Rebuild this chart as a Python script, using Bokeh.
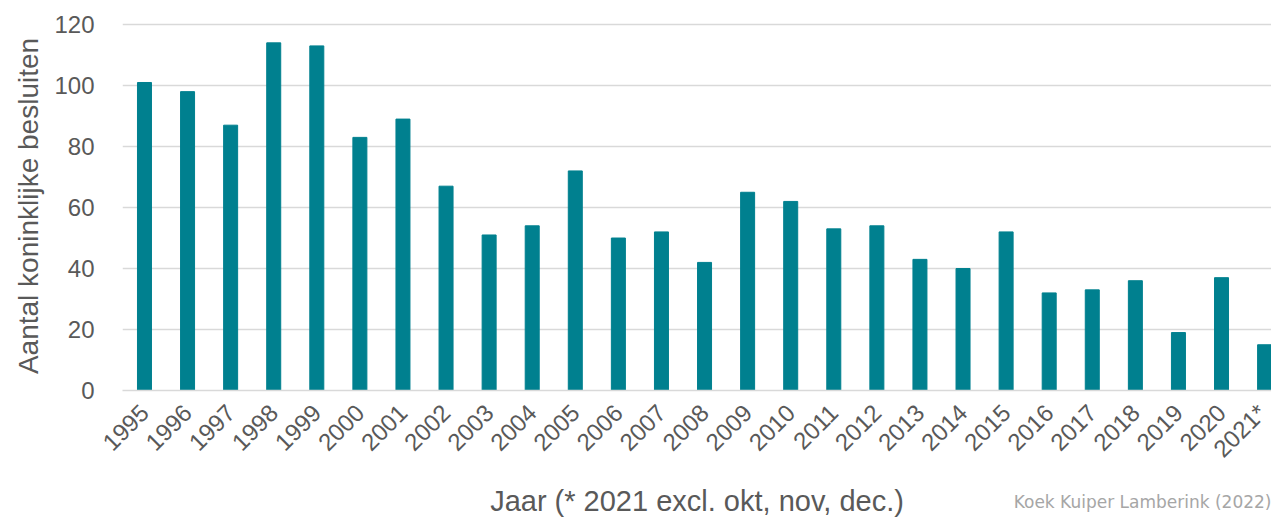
from math import pi
from bokeh.plotting import figure
from bokeh.models import FixedTicker, Label, ColumnDataSource, Range1d
from bokeh.embed import file_html
from bokeh.resources import INLINE

years = list(range(1995, 2022))
tick_labels = [str(y) for y in range(1995, 2021)] + ["2021*"]
values = [101, 98, 87, 114, 113, 83, 89, 67, 51, 54, 72, 50, 52, 42, 65, 62,
          53, 54, 43, 40, 52, 32, 33, 36, 19, 37, 15]
y_ticks = [0, 20, 40, 60, 80, 100, 120]

src = ColumnDataSource(data=dict(x=years, top=values))

p = figure(width=1271, height=519, output_backend="svg", toolbar_location=None,
           x_range=Range1d(1994.49, 2021.16), y_range=Range1d(0, 121),
           min_border_left=122, min_border_right=0, min_border_top=21,
           min_border_bottom=129)
p.vbar(x="x", top="top", width=0.325, source=src, color="#00808F")

p.outline_line_color = None
p.xgrid.grid_line_color = None
p.ygrid.grid_line_color = "#D9D9D9"
p.ygrid.grid_line_width = 1.5
p.ygrid.ticker = FixedTicker(ticks=y_ticks)

font = "Liberation Sans"
txt = "#595959"

p.yaxis.ticker = FixedTicker(ticks=y_ticks)
p.yaxis.axis_line_color = None
p.yaxis.major_tick_line_color = None
p.yaxis.minor_tick_line_color = None
p.yaxis.major_label_text_font = font
p.yaxis.major_label_text_font_size = "24px"
p.yaxis.major_label_text_color = txt
p.yaxis.major_label_standoff = 22
p.yaxis.axis_label = "Aantal koninklijke besluiten"
p.yaxis.axis_label_text_font = font
p.yaxis.axis_label_text_font_size = "28px"
p.yaxis.axis_label_text_font_style = "normal"
p.yaxis.axis_label_text_color = txt
p.yaxis.axis_label_standoff = 7

p.xaxis.ticker = FixedTicker(ticks=years)
p.xaxis.major_label_overrides = {y: l for y, l in zip(years, tick_labels)}
p.xaxis.major_label_orientation = pi / 4
p.xaxis.axis_line_color = "#D9D9D9"
p.xaxis.axis_line_width = 1.5
p.xaxis.major_tick_line_color = None
p.xaxis.minor_tick_line_color = None
p.xaxis.major_label_text_font = font
p.xaxis.major_label_text_font_size = "24px"
p.xaxis.major_label_text_color = txt
p.xaxis.major_label_standoff = 12
p.xaxis.axis_label = "Jaar (* 2021 excl. okt, nov, dec.)"
p.xaxis.axis_label_text_font = font
p.xaxis.axis_label_text_font_size = "29px"
p.xaxis.axis_label_text_font_style = "normal"
p.xaxis.axis_label_text_color = txt
p.xaxis.axis_label_standoff = 10

p.add_layout(Label(x=1149, y=-480, x_units="screen", y_units="screen",
                   text="Koek Kuiper Lamberink (2022)",
                   text_align="right", text_baseline="middle",
                   text_font="DejaVu Sans", text_font_size="17px",
                   text_color="#A6A6A6"), "above")

open("out.html", "w").write(file_html(p, INLINE))
